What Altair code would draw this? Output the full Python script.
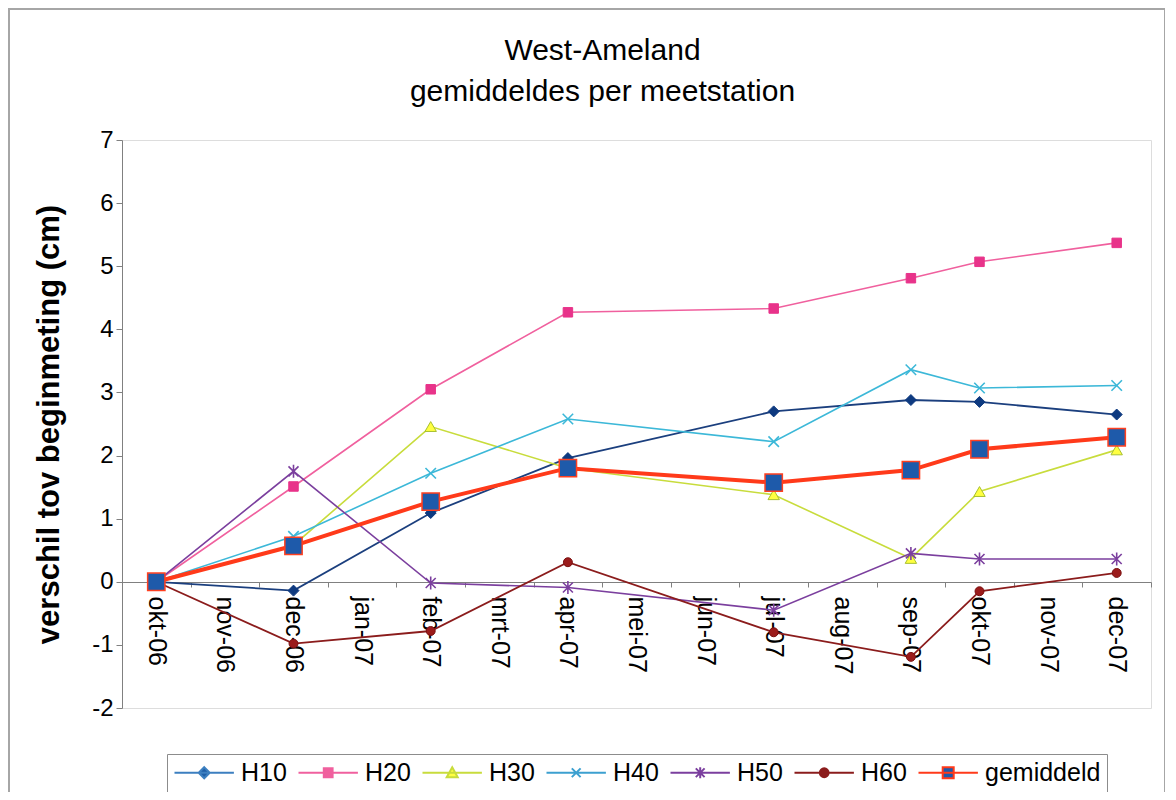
import altair as alt
import pandas as pd

# ---------------- data ----------------
maanden = ["okt-06", "nov-06", "dec-06", "jan-07", "feb-07", "mrt-07", "apr-07", "mei-07",
           "jun-07", "jul-07", "aug-07", "sep-07", "okt-07", "nov-07", "dec-07"]
meetmomenten = ["okt-06", "dec-06", "feb-07", "apr-07", "jul-07", "sep-07", "okt-07", "dec-07"]
reeksen = ["H10", "H20", "H30", "H40", "H50", "H60", "gemiddeld"]

H10 = [0.00, -0.14, 1.09, 1.96, 2.70, 2.88, 2.85, 2.65]
H20 = [0.00, 1.51, 3.05, 4.27, 4.33, 4.81, 5.07, 5.37]
H30 = [0.00, 0.58, 2.46, 1.80, 1.38, 0.37, 1.43, 2.09]
H40 = [0.00, 0.72, 1.72, 2.58, 2.22, 3.36, 3.07, 3.11]
H50 = [0.00, 1.75, -0.02, -0.09, -0.45, 0.45, 0.36, 0.36]
H60 = [0.00, -0.98, -0.78, 0.31, -0.80, -1.19, -0.15, 0.14]
gemiddeld = [0.00, 0.57, 1.27, 1.80, 1.57, 1.77, 2.10, 2.29]

waarden = {"H10": H10, "H20": H20, "H30": H30, "H40": H40,
           "H50": H50, "H60": H60, "gemiddeld": gemiddeld}

rows = []
for naam in reeksen:
    for m, v in zip(meetmomenten, waarden[naam]):
        rows.append({"maand": m, "reeks": naam, "waarde": v})
df = pd.DataFrame(rows)

# ---------------- styles ----------------
FONT = "Liberation Sans"
CROSS = "M-1,-1L1,1M-1,1L1,-1"
STAR = "M-1,-1L1,1M-1,1L1,-1M0,-1.3L0,1.3"

line_color = {"H10": "#1B3F7E", "H20": "#F0609E", "H30": "#C8DC3C", "H40": "#3CB8D8",
              "H50": "#7B3F9E", "H60": "#8B1C1C", "gemiddeld": "#FF3A1A"}
line_width = {"H10": 1.8, "H20": 1.6, "H30": 1.6, "H40": 1.6, "H50": 1.6, "H60": 1.8,
              "gemiddeld": 4}
marker_shape = {"H10": "diamond", "H20": "square", "H30": "triangle-up", "H40": CROSS,
                "H50": STAR, "H60": "circle", "gemiddeld": "square"}
marker_size = {"H10": 121, "H20": 90, "H30": 130, "H40": 110, "H50": 100, "H60": 80,
               "gemiddeld": 300}
marker_fill = {"H10": "#0E3A80", "H20": "#E8338A", "H30": "#FFFF40", "H40": "transparent",
               "H50": "transparent", "H60": "#9B1B1B", "gemiddeld": "#1E5AAA"}
marker_stroke = {"H10": "#0E3A80", "H20": "#E8338A", "H30": "#A8C030", "H40": "#3CB8D8",
                 "H50": "#7B3F9E", "H60": "#7A1010", "gemiddeld": "#FF4020"}
marker_sw = {"H10": 1, "H20": 1, "H30": 1, "H40": 1.6, "H50": 1.6, "H60": 1, "gemiddeld": 1.5}

# legend symbols: a line with the marker on it (custom paths, unit = 11 px)
c = 1.7
leg_paths = [
    f"M-1,0H4.4M{c},-0.5L{c+0.5},0L{c},0.5L{c-0.5},0Z",
    f"M-1,0H4.4M{c-0.4},-0.4H{c+0.4}V0.4H{c-0.4}Z",
    f"M-1,0H4.4M{c},-0.5L{c+0.5},0.4H{c-0.5}Z",
    f"M-1,0H4.4M{c-0.4},-0.4L{c+0.4},0.4M{c-0.4},0.4L{c+0.4},-0.4",
    f"M-1,0H4.4M{c-0.4},-0.4L{c+0.4},0.4M{c-0.4},0.4L{c+0.4},-0.4M{c},-0.5V0.5",
    f"M-1,0H4.4M{c-0.4},0A0.4,0.4 0 1,1 {c+0.4},0A0.4,0.4 0 1,1 {c-0.4},0Z",
    f"M-1,0H4.4M{c-0.5},-0.5H{c+0.5}V0.5H{c-0.5}Z",
]
leg_fill = ["#1F5FA8", "#F0609E", "#FFFF40", "transparent", "transparent", "#8B1C1C", "#1E5AAA"]
leg_stroke = ["#3C7FC0", "#F0609E", "#C8DC3C", "#3CA0D0", "#7B3F9E", "#8B1C1C", "#FF3A1A"]

# ---------------- encodings ----------------
x_enc = alt.X(
    "maand:O",
    sort=maanden,
    bandPosition=0.5,
    scale=alt.Scale(type="band", domain=maanden, paddingInner=0, paddingOuter=0),
    axis=alt.Axis(title=None, labelAngle=90, labelFont=FONT, labelFontSize=25,
                  labelColor="black", tickBand="extent", tickSize=5, tickColor="#808080",
                  domainColor="#808080", offset=-126, labelPadding=9, grid=False,
                  labelOverlap=False),
)
y_enc = alt.Y(
    "waarde:Q",
    scale=alt.Scale(domain=[-2, 7], nice=False, zero=False),
    axis=alt.Axis(values=list(range(-2, 8)), labelExpr="'' + datum.value",
                  title="verschil tov beginmeting (cm)",
                  titleFont=FONT, titleFontSize=31, titleFontWeight="bold",
                  titleColor="black", labelFont=FONT, labelFontSize=24, labelColor="black",
                  tickColor="#808080", tickSize=6, domainColor="#808080", grid=False,
                  labelPadding=3, titlePadding=26),
)

base = alt.Chart(df)

frame = alt.Chart(pd.DataFrame({"k": [0]})).mark_rect(
    fillOpacity=0, stroke="#A6A6A6", strokeWidth=2
).encode(x=alt.value(-113), x2=alt.value(1043), y=alt.value(-131), y2=alt.value(670))

layers = [frame]
for naam in reeksen:
    sub = base.transform_filter(alt.datum.reeks == naam)
    layers.append(
        sub.mark_line(color=line_color[naam], strokeWidth=line_width[naam]).encode(
            x=x_enc, y=y_enc)
    )
    layers.append(
        sub.mark_point(shape=marker_shape[naam], size=marker_size[naam], filled=True,
                       fill=marker_fill[naam], stroke=marker_stroke[naam],
                       strokeWidth=marker_sw[naam], opacity=1).encode(x=x_enc, y=y_enc)
    )

leg = alt.Legend(orient="none", legendX=45, legendY=614, direction="horizontal",
                 title=None, columns=7, labelFont=FONT, labelFontSize=25,
                 labelColor="black", symbolSize=484, labelOffset=43, columnPadding=7,
                 padding=6, strokeColor="#8c8c8c", fillColor="white",
                 symbolStrokeWidth=2)

legend_layer = base.transform_filter("false").mark_point(
    filled=True, opacity=1, strokeWidth=2
).encode(
    shape=alt.Shape("reeks:N", scale=alt.Scale(domain=reeksen, range=leg_paths), legend=leg),
    fill=alt.Fill("reeks:N", scale=alt.Scale(domain=reeksen, range=leg_fill), legend=leg),
    stroke=alt.Stroke("reeks:N", scale=alt.Scale(domain=reeksen, range=leg_stroke), legend=leg),
)
layers.append(legend_layer)

chart = alt.layer(*layers).properties(
    width=1029,
    height=568,
    autosize=alt.AutoSizeParams(type="none"),
    padding={"left": 114, "top": 132, "right": 14, "bottom": 84},
    title=alt.TitleParams(text=["West-Ameland", "gemiddeldes per meetstation"], font=FONT,
                          fontSize=30, fontWeight="normal", color="black", anchor="middle",
                          dx=-34, offset=-99, lineHeight=41),
).configure_view(
    fill="#FFFFE4", stroke="#8c8c8c", strokeWidth=1.5
).configure(background="white")

chart.save("out.html", embed_options={"renderer": "svg", "actions": False})
